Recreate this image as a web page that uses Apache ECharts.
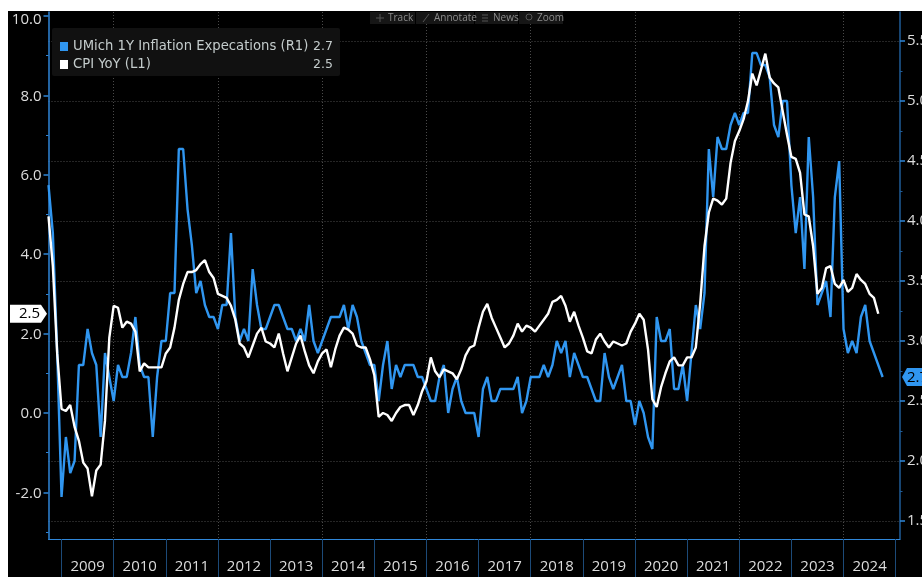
<!DOCTYPE html>
<html><head><meta charset="utf-8">
<style>html,body{margin:0;padding:0;background:#fff;overflow:hidden}
#c{position:absolute;left:8px;top:11px;width:914px;height:566px;background:#000}</style>
<script src="https://cdn.jsdelivr.net/npm/echarts@6/dist/echarts.min.js"></script>
</head><body><div id="c"></div>
<script>
const umich = [4.3,3.9,2.9,1.7,2.2,1.9,2.0,2.8,2.8,3.1,
2.9,2.8,2.2,2.9,2.7,2.5,2.8,2.7,2.7,2.9,
3.2,2.8,2.7,2.7,2.2,2.7,3.0,3.0,3.4,3.4,
4.6,4.6,4.1,3.8,3.4,3.5,3.3,3.2,3.2,3.1,
3.3,3.3,3.9,3.2,3.0,3.1,3.0,3.6,3.3,3.1,
3.1,3.2,3.3,3.3,3.2,3.1,3.1,3.0,3.1,3.0,
3.3,3.0,2.9,3.0,3.1,3.2,3.2,3.2,3.3,3.1,
3.3,3.2,3.0,2.9,2.8,2.8,2.5,2.8,3.0,2.6,
2.8,2.7,2.8,2.8,2.8,2.7,2.7,2.6,2.5,2.5,
2.7,2.8,2.4,2.6,2.7,2.5,2.4,2.4,2.4,2.2,
2.6,2.7,2.5,2.5,2.6,2.6,2.6,2.6,2.7,2.4,
2.5,2.7,2.7,2.7,2.8,2.7,2.8,3.0,2.9,3.0,
2.7,2.9,2.8,2.7,2.7,2.6,2.5,2.5,2.9,2.7,
2.6,2.7,2.8,2.5,2.5,2.3,2.5,2.4,2.2,2.1,
3.2,3.0,3.0,3.1,2.6,2.6,2.8,2.5,2.9,3.3,
3.1,3.4,4.6,4.2,4.7,4.6,4.6,4.8,4.9,4.8,
4.9,4.9,5.4,5.4,5.3,5.3,5.2,4.8,4.7,5.0,
5.0,4.3,3.9,4.2,3.6,4.7,4.2,3.3,3.4,3.5,
3.2,4.2,4.5,3.1,2.9,3.0,2.9,3.2,3.3,3.0,
2.9,2.8,2.7];
const cpi = [4.95,3.7,1.5,0.1,0.05,0.2,-0.35,-0.7,-1.25,-1.4,
-2.1,-1.45,-1.3,-0.2,1.9,2.7,2.65,2.15,2.3,2.25,
2.05,1.05,1.25,1.15,1.15,1.15,1.15,1.5,1.65,2.15,
2.85,3.25,3.55,3.55,3.6,3.75,3.85,3.55,3.4,3.0,
2.95,2.9,2.7,2.35,1.75,1.65,1.4,1.7,2.0,2.15,
1.8,1.75,1.65,2.0,1.5,1.05,1.4,1.75,1.95,1.55,
1.2,1.0,1.3,1.5,1.6,1.15,1.6,1.95,2.15,2.1,
2.0,1.7,1.65,1.65,1.35,0.95,-0.1,0.0,-0.05,-0.2,
0.0,0.15,0.2,0.2,-0.05,0.2,0.55,0.8,1.4,1.05,
0.9,1.1,1.05,1.0,0.85,1.1,1.45,1.65,1.7,2.15,
2.55,2.75,2.4,2.15,1.9,1.65,1.75,1.95,2.25,2.05,
2.2,2.15,2.05,2.2,2.35,2.5,2.8,2.85,2.95,2.7,
2.3,2.55,2.2,1.9,1.55,1.5,1.85,2.0,1.8,1.65,
1.8,1.75,1.7,1.75,2.05,2.25,2.5,2.35,1.6,0.35,
0.15,0.65,1.0,1.3,1.4,1.2,1.2,1.4,1.4,1.65,
2.75,4.2,5.05,5.4,5.35,5.25,5.4,6.3,6.85,7.1,
7.4,7.85,8.55,8.25,8.65,9.05,8.45,8.3,8.2,7.6,
7.0,6.45,6.4,6.05,5.0,4.95,4.2,3.0,3.15,3.65,
3.7,3.25,3.15,3.35,3.05,3.15,3.5,3.35,3.25,3.0,
2.9,2.5];
const months = [];
for (let y = 2008, m = 9; months.length < 197; m++) {
  if (m > 12) { m = 1; y++; }
  months.push(y + '-' + String(m).padStart(2, '0'));
}
const leftTicks = [-2,0,2,4,6,8,10];
const leftMinor = [-3,-1,1,3,5,7,9];
const rightTicks = [1.5,2,2.5,3,3.5,4,4.5,5,5.5];
const rightMinor = [1.75,2.25,2.75,3.25,3.75,4.25,4.75,5.25];
const toolbar = [['Track',370,415,388],['Annotate',416,474,434],['News',475,518,493],['Zoom',519,563,537]];

const OX = 8, OY = 11;
const BLUE = '#3096f0', AX = '#2f86d8', AXR = '#1f5c98';
const FONT = '"Open Sans","Noto Sans",sans-serif';
const hideY = {show:false};
function legendText(name){
  const v = name.indexOf('UMich') === 0 ? umich[umich.length-1] : cpi[cpi.length-1];
  return '{n|' + name + '}{v|' + v.toFixed(1) + '}';
}
const LF = {color:'#c4cccc',fontFamily:'"DejaVu Sans"',fontSize:13.2};
const LV = {color:'#c4cccc',fontFamily:'"DejaVu Sans"',fontSize:12.5};
const YL = {color:'#dcdcdc',fontFamily:FONT,fontSize:15};
const chart = echarts.init(document.getElementById('c'));
const option = {
  animation:false,
  backgroundColor:'#000',
  grid:{left:48.5-OX,top:12-OY,right:22,bottom:577-539,containLabel:false,outerBoundsMode:'none'},
  legend:{
    left:52-OX,top:28-OY,orient:'vertical',icon:'rect',itemWidth:8,itemHeight:9,itemGap:4,
    padding:[10,7,8,8],backgroundColor:'#111',borderRadius:2,
    data:['UMich 1Y Inflation Expecations (R1)','CPI YoY (L1)'],
    formatter:legendText,
    textStyle:Object.assign({},LF,{rich:{n:Object.assign({width:237,height:14},LF),v:Object.assign({width:23,height:14,align:'right'},LV)}})
  },
  xAxis:{
    type:'category',data:months,boundaryGap:false,
    axisLine:{show:true,onZero:false,lineStyle:{color:AX,width:1}},
    axisTick:{show:true,length:38,lineStyle:{color:'#1c4a78'},interval:i=>(i-3)%12===0},
    axisLabel:{show:true,color:'#dcdcdc',fontFamily:FONT,fontSize:15,margin:20,
      interval:i=>(i-9)%12===0,formatter:v=>v.slice(0,4)},
    splitLine:{show:true,interval:i=>(i-15)%24===0,lineStyle:{color:'#4a4a4a',type:[1,2],width:1}}
  },
  yAxis:[
    {type:'value',position:'left',min:-3.174,max:10.1,interval:2,
     axisLine:{show:true,onZero:false,lineStyle:{color:AX,width:1.5}},
     axisTick:{show:true,length:5,customValues:leftTicks,lineStyle:{color:AX,width:1.5}},
     axisLabel:Object.assign({margin:7,padding:[2,0,0,0],customValues:leftTicks,
       formatter:v=>v===10?'{t|10.0}':v.toFixed(1),
       rich:{t:Object.assign({padding:[6,0,0,0]},YL)}},YL),
     splitLine:hideY},
    {type:'value',position:'right',min:1.35,max:5.742,interval:0.5,
     axisLine:{show:true,onZero:false,lineStyle:{color:AXR,width:1.5}},
     axisTick:{show:true,length:5,customValues:rightTicks,lineStyle:{color:AX,width:1.5}},
     axisLabel:Object.assign({margin:7,padding:[2,0,0,0],customValues:rightTicks,formatter:v=>v.toFixed(1)},YL),
     splitLine:{show:true,customValues:rightTicks,lineStyle:{color:'#4a4a4a',type:[1,2],width:1}}},
    {type:'value',position:'left',min:-3.174,max:10.1,interval:2,
     axisLine:hideY,axisLabel:hideY,splitLine:hideY,
     axisTick:{show:true,length:2.5,customValues:leftMinor,lineStyle:{color:AX}}},
    {type:'value',position:'right',min:1.35,max:5.742,interval:0.5,
     axisLine:hideY,axisLabel:hideY,splitLine:hideY,
     axisTick:{show:true,length:2.5,customValues:rightMinor,lineStyle:{color:AXR}}}
  ],
  series:[
    {name:'UMich 1Y Inflation Expecations (R1)',type:'line',yAxisIndex:1,data:umich,showSymbol:false,
     lineStyle:{color:BLUE,width:2.4},itemStyle:{color:BLUE},z:3},
    {name:'CPI YoY (L1)',type:'line',yAxisIndex:0,data:cpi,showSymbol:false,
     lineStyle:{color:'#fff',width:2.4},itemStyle:{color:'#fff'},z:4}
  ]
};
option.legend.padding = [12,7,5,8];
option.legend.itemGap = 5;
chart.setOption(option);
// value tags + toolbar: tag heights come from the axes' own scales
const yL = chart.convertToPixel({yAxisIndex:0}, cpi[cpi.length-1]);
const yR = chart.convertToPixel({yAxisIndex:1}, umich[umich.length-1]);
const g = [];
g.push({type:'polygon',silent:true,z:50,shape:{points:[[2,yL-9],[33,yL-9],[39,yL],[33,yL+9],[2,yL+9]]},style:{fill:'#fff'}});
g.push({type:'text',silent:true,z:51,style:{x:32,y:yL+0.5,text:cpi[cpi.length-1].toFixed(1),fill:'#000',font:'15px '+FONT,textAlign:'right',textVerticalAlign:'middle'}});
g.push({type:'polygon',silent:true,z:50,shape:{points:[[894,yR],[899,yR-9],[914,yR-9],[914,yR+9],[899,yR+9]]},style:{fill:BLUE}});
g.push({type:'text',silent:true,z:51,style:{x:899,y:yR+0.5,text:umich[umich.length-1].toFixed(1),fill:'#000',font:'15px '+FONT,textAlign:'left',textVerticalAlign:'middle'}});
toolbar.forEach(([t,a,b,tx])=>{
  g.push({type:'rect',silent:true,z:50,shape:{x:a-OX,y:1,width:b-a,height:12},style:{fill:'#161616'}});
  g.push({type:'text',silent:true,z:51,style:{x:tx-OX,y:7,text:t,fill:'#8c8c8c',font:'10px '+FONT,textVerticalAlign:'middle'}});
});
const ic = '#555';
const ix = t => t - OX - 11;
// small toolbar glyphs
g.push({type:'line',silent:true,z:51,shape:{x1:ix(388)-1,y1:7,x2:ix(388)+7,y2:7},style:{stroke:ic}});
g.push({type:'line',silent:true,z:51,shape:{x1:ix(388)+3,y1:3,x2:ix(388)+3,y2:11},style:{stroke:ic}});
g.push({type:'line',silent:true,z:51,shape:{x1:ix(434),y1:11,x2:ix(434)+6,y2:3},style:{stroke:ic}});
[4,7,10].forEach(y=>g.push({type:'line',silent:true,z:51,shape:{x1:ix(493),y1:y,x2:ix(493)+6,y2:y},style:{stroke:ic}}));
g.push({type:'circle',silent:true,z:51,shape:{cx:ix(537)+3,cy:6,r:3},style:{fill:'none',stroke:ic}});
chart.setOption({graphic:g});
</script></body></html>
